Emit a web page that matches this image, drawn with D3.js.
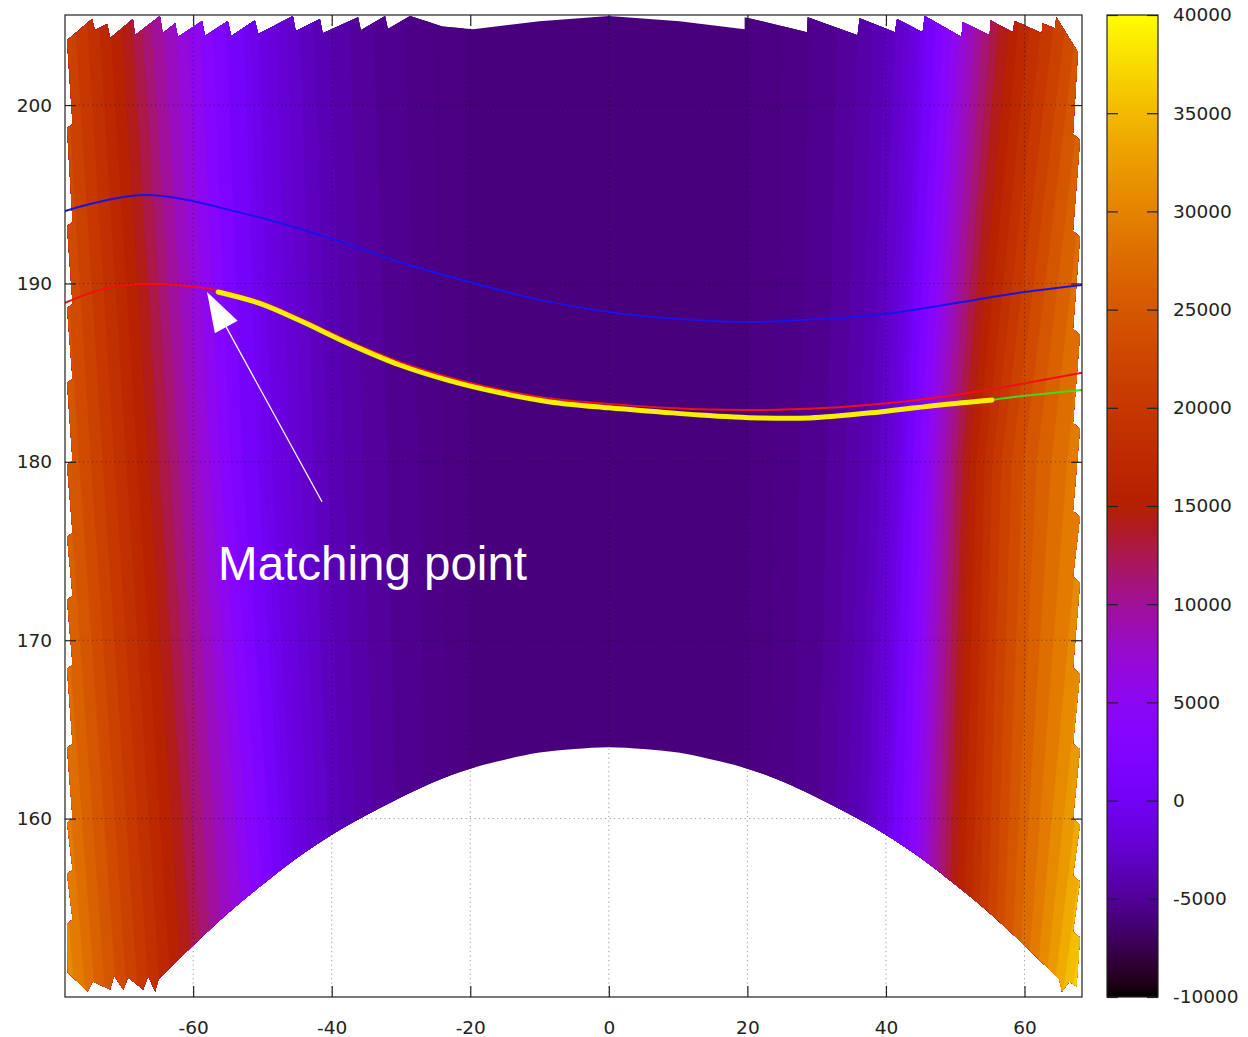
<!DOCTYPE html>
<html>
<head>
<meta charset="utf-8">
<script src="https://cdn.jsdelivr.net/npm/d3@7"></script>
<style>
body { margin: 0; background: #fff; }
svg text { font-family: "DejaVu Sans", sans-serif; }
</style>
</head>
<body>
<svg id="plot" width="1248" height="1037"></svg>
<script>
// ---- data ----
var xTicks = [-60, -40, -20, 0, 20, 40, 60];
var yTicks = [160, 170, 180, 190, 200];
var cbTicks = [-10000, -5000, 0, 5000, 10000, 15000, 20000, 25000, 30000, 35000, 40000];

// colour levels of the surface and where each level line sits (x) at the top, middle and bottom
var levelRows = [205.05, 180, 150];
var centreZ = -5950;
var levels = [-5800, -5650, -5500, -5000, -4500, -4000, -3500, -3000, -2500, -2000, -1500, -1000, -500, 0,
  1500, 3000, 4500, 6000, 7500, 9000, 10500, 12000, 13500, 15000, 16500, 18000, 19500, 21000,
  22500, 24000, 25500, 27000, 28500, 30000, 31500, 33000, 34500, 36000, 37500];
var leftTop = [-21.0, -25.5, -29.5, -34.0, -37.5, -40.3, -42.6, -44.6, -46.4, -48.0, -49.4, -50.6, -51.7, -52.7,
  -55.2, -57.2, -59.0, -60.8, -62.6, -64.4, -66.1, -67.5, -69.0, -70.5, -72.1, -73.7, -75.4, -77.1,
  -78.8, -80.5, -82.2, -83.9, -85.6, -87.3, -89.0, -90.7, -92.4, -94.1, -95.8];
var leftMid = [-20.0, -24.0, -27.5, -32.0, -35.5, -38.3, -40.6, -42.6, -44.4, -46.0, -47.4, -48.6, -49.7, -50.7,
  -52.9, -54.6, -56.1, -57.6, -59.1, -60.6, -62.1, -63.5, -65.0, -66.5, -68.1, -69.7, -71.4, -73.1,
  -74.8, -76.5, -78.2, -79.9, -81.6, -83.3, -85.0, -86.7, -88.4, -90.1, -91.8];
var leftBot = [-19.0, -22.5, -26.0, -30.2, -33.4, -35.9, -37.9, -39.6, -41.1, -42.4, -43.5, -44.4, -45.2, -46.0,
  -47.2, -48.9, -50.6, -52.2, -53.8, -55.4, -57.0, -58.6, -60.0, -61.6, -63.2, -64.8, -66.4, -68.0,
  -69.6, -71.1, -72.7, -74.2, -75.6, -77.1, -78.5, -79.9, -81.3, -82.7, -84.1];
var rightTop = [20.0, 25.0, 29.0, 33.0, 36.0, 38.2, 40.0, 41.3, 42.5, 43.4, 44.3, 44.9, 45.4, 45.9,
  47.2, 48.3, 49.5, 50.6, 51.8, 53.0, 54.1, 55.3, 56.4, 57.9, 59.3, 60.9, 62.6, 64.4,
  66.1, 67.7, 69.4, 71.1, 72.8, 74.5, 76.2, 77.9, 79.6, 81.3, 83.0];
var rightMid = [20.0, 24.0, 27.5, 31.5, 34.2, 36.3, 37.9, 39.1, 40.1, 40.9, 41.6, 42.1, 42.5, 42.9,
  43.9, 44.9, 45.9, 46.8, 47.6, 48.5, 49.4, 50.2, 51.1, 52.1, 53.1, 54.3, 55.4, 56.7,
  58.2, 59.9, 61.8, 63.9, 66.2, 68.7, 71.2, 73.7, 76.2, 78.7, 81.2];
var rightBot = [19.0, 22.5, 26.2, 29.7, 32.0, 33.6, 35.3, 36.5, 37.3, 37.9, 38.6, 39.3, 39.9, 40.3,
  41.6, 42.7, 43.7, 44.6, 45.5, 46.3, 47.2, 48.1, 48.9, 49.9, 50.9, 52.1, 53.2, 54.4,
  55.6, 56.7, 57.9, 59.0, 60.3, 61.6, 62.9, 64.2, 65.5, 66.8, 68.1];

// outline of the surface (x, y)
var edgeTop = [[-78.2, 203.64], [-74.6, 204.82], [-74.2, 204.20], [-72.4, 204.54], [-72.0, 203.75], [-68.7, 204.82],
  [-68.4, 203.92], [-64.8, 204.99], [-64.4, 204.03], [-62.6, 204.59], [-62.2, 203.81], [-58.7, 204.71], [-58.3, 203.87],
  [-55.0, 204.71], [-54.5, 203.87], [-51.1, 204.76], [-50.6, 203.98], [-45.6, 204.99], [-45.2, 204.15], [-41.7, 204.82],
  [-41.3, 204.03], [-36.2, 204.93], [-35.8, 204.20], [-32.3, 204.99], [-31.9, 204.26], [-28.7, 204.99], [-24.0, 204.4],
  [-19.6, 204.25], [-10.0, 204.7], [0, 204.99], [10.2, 204.7], [19.6, 204.25], [19.6, 204.93], [28.6, 204.09],
  [28.7, 204.93], [35.9, 203.92], [36.2, 204.87], [41.3, 204.09], [41.6, 204.82], [45.3, 204.09], [45.6, 204.99],
  [50.9, 203.81], [51.1, 204.65], [55.0, 203.92], [55.05, 204.76], [58.3, 204.09], [58.6, 204.71], [62.5, 204.03],
  [62.6, 204.59], [64.4, 204.31], [64.6, 204.93], [67.7, 202.97]];
var edgeRight = [[67.0, 198.38], [68.0, 198.04], [67.0, 192.94], [68.0, 192.61], [67.0, 187.45], [68.0, 187.11],
  [67.0, 182.18], [68.0, 181.85], [67.0, 177.25], [68.0, 176.92], [67.0, 173.56], [68.0, 173.22], [67.0, 168.46],
  [68.0, 168.12], [67.0, 164.20], [68.0, 163.87], [67.0, 160.00], [68.0, 159.66], [67.0, 156.81], [68.0, 156.47],
  [67.0, 153.67], [68.0, 153.33], [67.5, 150.59], [66.5, 150.87], [65.4, 150.31]];
var edgeArc = [[65, 151.0], [60, 152.9], [55, 154.7], [50, 156.3], [45, 157.8], [40, 159.1], [35, 160.2], [30, 161.2],
  [25, 162.1], [20, 162.8], [15, 163.3], [10, 163.7], [5, 163.9], [0, 164.0], [-5, 163.9], [-10, 163.7], [-15, 163.3],
  [-20, 162.8], [-25, 162.1], [-30, 161.2], [-35, 160.2], [-40, 159.1], [-45, 157.8], [-50, 156.3], [-55, 154.7],
  [-60, 152.9], [-65, 151.0]];
var edgeTeeth = [[-65.5, 150.31], [-66.5, 151.20], [-67.2, 150.42], [-69.4, 151.09], [-70.1, 150.42],
  [-71.4, 151.20], [-72.0, 150.42], [-74.5, 150.87], [-75.2, 150.31], [-78.1, 151.37]];
var edgeLeft = [[-78.2, 154.12], [-77.4, 154.34], [-78.2, 156.92], [-77.4, 157.14], [-78.2, 159.78], [-77.4, 160.00],
  [-78.2, 163.98], [-77.4, 164.20], [-78.2, 168.40], [-77.4, 168.63], [-78.2, 172.27], [-77.4, 172.49], [-78.2, 175.80],
  [-77.4, 176.02], [-78.2, 179.83], [-77.4, 180.06], [-78.2, 184.43], [-77.4, 184.65], [-78.2, 188.63], [-77.4, 188.85],
  [-78.2, 193.22], [-77.4, 193.45], [-78.2, 198.71], [-77.4, 198.94]];

// curves
var blueCurve = [[-78.5, 194.06], [-67.0, 194.96], [-51.8, 193.84], [-40.3, 192.55], [-30.2, 191.20], [-20.1, 190.08],
  [-10.0, 189.08], [0, 188.40], [10.2, 188.01], [19.9, 187.84], [30.4, 188.01], [40.0, 188.29], [49.2, 188.85],
  [60.0, 189.52], [68.3, 189.92]];
var redCurve = [[-78.5, 188.91], [-73.4, 189.64], [-67.7, 189.97], [-61.9, 189.9], [-56.4, 189.62], [-50.4, 189.0],
  [-44.6, 188.05], [-37.4, 186.75], [-30.2, 185.6], [-22.9, 184.72], [-15.7, 184.05], [-8.5, 183.55], [0, 183.25],
  [7.4, 183.05], [13.1, 182.95], [21.8, 182.91], [30.4, 183.0], [42.0, 183.36], [50.0, 183.75], [55.0, 184.05],
  [60.0, 184.4], [68.3, 184.99]];
var yellowCurve = [[-56.4, 189.52], [-50.4, 188.88], [-44.6, 187.92], [-37.4, 186.6], [-30.2, 185.43], [-22.9, 184.54],
  [-15.7, 183.87], [-8.5, 183.36], [0, 183.03], [7.4, 182.80], [13.1, 182.63], [21.8, 182.46], [29.0, 182.46],
  [39.1, 182.80], [47.8, 183.19], [55.3, 183.47]];
var greenCurve = [[55.3, 183.47], [60.0, 183.7], [68.3, 184.03]];

// annotation
var arrowTip = [-58.0, 189.52];
var arrowTail = [-41.4, 177.76];
var labelText = "Matching point";
var labelAt = [-56.4, 173.4];

// ---- chart ----
var svg = d3.select("#plot");
var padL = 65, padR = 1082, padT = 15, padB = 997;
var cbLeft = 1107, cbRight = 1158;

var x = d3.scaleLinear().domain([-78.5, 68.3]).range([padL, padR]);
var y = d3.scaleLinear().domain([150, 205.05]).range([padB, padT]);
var cb = d3.scaleLinear().domain([-10000, 40000]).range([padB, padT]);

// gnuplot default palette (rgbformulae 7,5,15)
var palette = function(z) {
	var t = (z - cb.domain()[0]) / (cb.domain()[1] - cb.domain()[0]);
	t = Math.max(0, Math.min(1, t));
	var b = Math.max(0, Math.sin(2 * Math.PI * t));
	return d3.rgb(255 * Math.sqrt(t), 255 * t * t * t, 255 * b).formatHex();
}

var line = d3.line().x(function(d) { return x(d[0]); }).y(function(d) { return y(d[1]); });
var smooth = d3.line().curve(d3.curveCatmullRom)
	.x(function(d) { return x(d[0]); }).y(function(d) { return y(d[1]); });
var defs = svg.append("defs");

// clip for the plot area and for the surface outline
defs.append("clipPath").attr("id", "area")
	.append("rect").attr("x", padL).attr("y", padT).attr("width", padR - padL).attr("height", padB - padT);
var outlinePath = line(edgeTop.concat(edgeRight)) +
	smooth(edgeArc).replace(/^M/, "L") +
	line(edgeTeeth.concat(edgeLeft)).replace(/^M/, "L") + "Z";
defs.append("clipPath").attr("id", "surf")
	.append("path").attr("d", outlinePath);

var surface = svg.append("g").attr("clip-path", "url(#area)")
	.append("g").attr("clip-path", "url(#surf)");

surface.append("rect")
	.attr("x", x(-90)).attr("y", y(207)).attr("width", x(80) - x(-90)).attr("height", y(148) - y(207))
	.style("fill", palette(centreZ));

// each level paints from its line outwards, so higher levels cover lower ones
levels.forEach(function(lev, k) {
	var z = k < levels.length - 1 ? (lev + levels[k + 1]) / 2 : lev + 750;
	var lp = [[leftTop[k], levelRows[0]], [leftMid[k], levelRows[1]], [leftBot[k], levelRows[2]],
		[leftBot[k], 148], [-100, 148], [-100, 207], [leftTop[k], 207]];
	var rp = [[rightTop[k], levelRows[0]], [rightMid[k], levelRows[1]], [rightBot[k], levelRows[2]],
		[rightBot[k], 148], [100, 148], [100, 207], [rightTop[k], 207]];
	[lp, rp].forEach(function(p) {
		surface.append("path")
			.attr("d", line(p) + "Z")
			.style("fill", palette(z))
			.style("stroke", palette(z))
			.style("stroke-width", 0.6);
	});
});

// grid
var grid = svg.append("g").style("stroke", "#000").style("stroke-opacity", 0.4)
	.style("stroke-width", 1).style("stroke-dasharray", "1.2,3.3");
xTicks.forEach(function(t) {
	grid.append("line").attr("x1", x(t)).attr("x2", x(t)).attr("y1", padT).attr("y2", padB);
});
yTicks.forEach(function(t) {
	grid.append("line").attr("x1", padL).attr("x2", padR).attr("y1", y(t)).attr("y2", y(t));
});

// curves
var curves = svg.append("g").attr("clip-path", "url(#area)").style("fill", "none")
	.style("stroke-linecap", "round").style("stroke-linejoin", "round");
curves.append("path").attr("d", smooth(blueCurve)).style("stroke", "#1a12e6").style("stroke-width", 2);
curves.append("path").attr("d", smooth(redCurve)).style("stroke", "#f01010").style("stroke-width", 2);
curves.append("path").attr("d", smooth(greenCurve)).style("stroke", "#3fdc1c").style("stroke-width", 2);
curves.append("path").attr("d", smooth(yellowCurve)).style("stroke", "#f6ef00").style("stroke-width", 5);

// arrow
var tx = x(arrowTip[0]), ty = y(arrowTip[1]);
var sx = x(arrowTail[0]), sy = y(arrowTail[1]);
var ang = Math.atan2(sy - ty, sx - tx);
var headLen = 40, headHalf = 13;
var bx = tx + headLen * Math.cos(ang), by = ty + headLen * Math.sin(ang);
svg.append("line")
	.attr("x1", sx).attr("y1", sy).attr("x2", bx).attr("y2", by)
	.style("stroke", "#fff").style("stroke-width", 1.3);
svg.append("path")
	.attr("d", "M" + tx + "," + ty +
		"L" + (bx - headHalf * Math.sin(ang)) + "," + (by + headHalf * Math.cos(ang)) +
		"L" + (bx + headHalf * Math.sin(ang)) + "," + (by - headHalf * Math.cos(ang)) + "Z")
	.style("fill", "#fff");

svg.append("text")
	.attr("x", x(labelAt[0])).attr("y", y(labelAt[1]))
	.style("font-family", "'Liberation Sans', Arial, sans-serif")
	.style("font-size", "47.5px")
	.style("fill", "#fff")
	.text(labelText);

// axes: labelled bottom/left, mirrored ticks top/right
var fmt = function(d) { return String(d); };
var styleAxis = function(g) {
	g.select(".domain").remove();
	g.selectAll(".tick line").style("stroke", "#222").style("stroke-width", 1.2);
	g.selectAll(".tick text").style("fill", "#222").style("font-size", "18.5px")
		.style("font-family", "'DejaVu Sans', sans-serif");
};
svg.append("g").attr("transform", "translate(0," + padB + ")")
	.call(d3.axisBottom(x).tickValues(xTicks).tickFormat(fmt).tickSize(-11).tickPadding(24))
	.call(styleAxis);
svg.append("g").attr("transform", "translate(0," + padT + ")")
	.call(d3.axisTop(x).tickValues(xTicks).tickFormat("").tickSize(-11))
	.call(styleAxis);
svg.append("g").attr("transform", "translate(" + padL + ",0)")
	.call(d3.axisLeft(y).tickValues(yTicks).tickFormat(fmt).tickSize(-11).tickPadding(13))
	.call(styleAxis);
svg.append("g").attr("transform", "translate(" + padR + ",0)")
	.call(d3.axisRight(y).tickValues(yTicks).tickFormat("").tickSize(-11))
	.call(styleAxis);

svg.append("rect")
	.attr("x", padL).attr("y", padT).attr("width", padR - padL).attr("height", padB - padT)
	.style("fill", "none").style("stroke", "#222").style("stroke-width", 1.2);

// colour box
var grad = defs.append("linearGradient").attr("id", "cbgrad")
	.attr("x1", 0).attr("y1", 1).attr("x2", 0).attr("y2", 0);
d3.range(0, 101).forEach(function(i) {
	var z = cb.domain()[0] + (cb.domain()[1] - cb.domain()[0]) * i / 100;
	grad.append("stop").attr("offset", i + "%").attr("stop-color", palette(z));
});
svg.append("rect")
	.attr("x", cbLeft).attr("y", padT).attr("width", cbRight - cbLeft).attr("height", padB - padT)
	.style("fill", "url(#cbgrad)");
svg.append("g").attr("transform", "translate(" + cbRight + ",0)")
	.call(d3.axisRight(cb).tickValues(cbTicks).tickFormat(fmt).tickSize(-11).tickPadding(15))
	.call(styleAxis);
svg.append("g").attr("transform", "translate(" + cbLeft + ",0)")
	.call(d3.axisLeft(cb).tickValues(cbTicks).tickFormat("").tickSize(-11))
	.call(styleAxis);
svg.append("rect")
	.attr("x", cbLeft).attr("y", padT).attr("width", cbRight - cbLeft).attr("height", padB - padT)
	.style("fill", "none").style("stroke", "#222").style("stroke-width", 1.2);
</script>
</body>
</html>
